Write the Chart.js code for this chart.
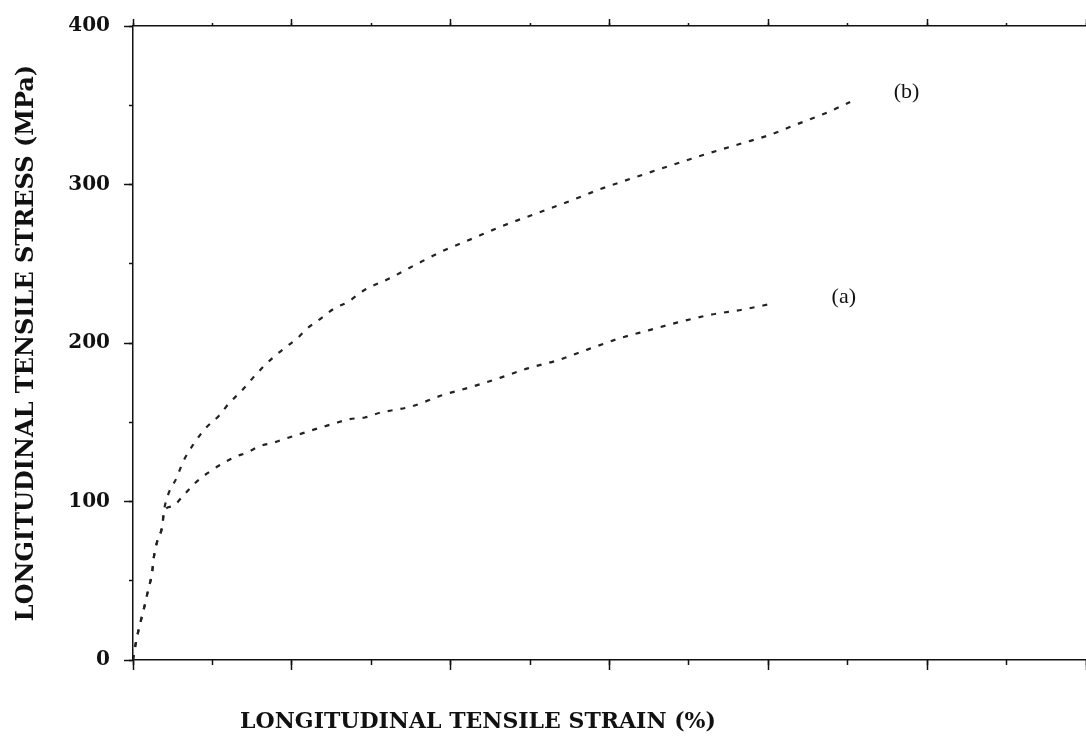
<!DOCTYPE html>
<html>
<head>
<meta charset="utf-8">
<script src="https://cdn.jsdelivr.net/npm/chart.js@4.4.1/dist/chart.umd.min.js"></script>
<style>
body { margin: 0; background: #fff; }
#wrap { width: 1086px; height: 740px; position: relative; }
</style>
</head>
<body>
<div id="wrap"><canvas id="mycanvas"></canvas></div>
<script>
// strain in minor-tick units (axis has no labels), stress in MPa
var strainA = [0, 0.04, 0.09, 0.14, 0.19, 0.24, 0.26, 0.30, 0.37, 0.39, 0.50, 0.62, 0.79, 0.97, 1.13, 1.28, 1.44, 1.60, 1.76, 1.94, 2.13, 2.32, 2.52, 2.73, 2.92, 3.11, 3.51, 3.89, 4.24, 4.62, 4.97, 5.34, 5.73, 6.13, 6.49, 6.86, 7.29, 7.67, 8.06];
var stressA = [0, 12, 23, 33, 44, 55, 64, 74, 85, 94, 97, 103, 112, 119, 124, 128, 131, 135, 137, 140, 143, 146, 149, 152, 153, 156, 160, 167, 172, 178, 184, 189, 196, 203, 208, 213, 218, 221, 225];

var strainB = [0, 0.04, 0.09, 0.14, 0.19, 0.24, 0.26, 0.30, 0.37, 0.39, 0.44, 0.55, 0.63, 0.76, 0.91, 1.08, 1.21, 1.37, 1.51, 1.66, 1.79, 1.94, 2.07, 2.19, 2.38, 2.54, 2.71, 2.90, 3.24, 3.58, 3.90, 4.28, 4.66, 5.04, 5.47, 5.88, 6.17, 7.27, 7.67, 8.00, 8.36, 8.72, 9.03];
var stressB = [0, 12, 23, 33, 44, 55, 64, 74, 85, 94, 104, 115, 125, 136, 146, 154, 162, 170, 178, 186, 192, 198, 203, 209, 216, 222, 226, 233, 241, 250, 258, 266, 274, 281, 289, 297, 302, 320, 326, 331, 338, 345, 352];

var curveNames = ['(a)', '(b)'];
var nameStrain = [8.95, 9.74];
var nameStress = [229, 358];

var yTicks = [0, 100, 200, 300, 400];
var xTitle = 'LONGITUDINAL TENSILE STRAIN (%)';
var yTitle = 'LONGITUDINAL TENSILE STRESS (MPa)';

function toPoints(xs, ys) {
	var pts = [];
	for (var i in xs) {
		pts.push({x: xs[i], y: ys[i]});
	}
	return pts;
}
function fixWidth(w) { return function(s) { s.width = w; }; }
function fixHeight(h) { return function(s) { s.height = h; }; }

var ink = '#111';

var textMarks = {
	id: 'textMarks',
	afterDraw: function(chart) {
		var ctx = chart.ctx;
		var xs = chart.scales.x, ys = chart.scales.y;
		ctx.save();
		ctx.fillStyle = ink;
		ctx.textAlign = 'center';
		ctx.textBaseline = 'middle';
		ctx.font = '22px "Liberation Serif"';
		for (var i = 0; i < curveNames.length; i++) {
			ctx.fillText(curveNames[i], xs.getPixelForValue(nameStrain[i]), ys.getPixelForValue(nameStress[i]));
		}
		ctx.font = 'bold 22px "DejaVu Serif"';
		ctx.fillText(xTitle, xs.left + 345, xs.top + 62);
		ctx.restore();
	}
};

var lineStyle = {
	borderColor: '#222',
	borderWidth: 2.2,
	borderDash: [5, 8],
	pointRadius: 0,
	fill: false,
	cubicInterpolationMode: 'monotone'
};

var chartdata = {
	datasets: [
		Object.assign({label: '(a)', data: toPoints(strainA, stressA)}, lineStyle),
		Object.assign({label: '(b)', data: toPoints(strainB, stressB)}, lineStyle)
	]
};

var ctx = document.getElementById('mycanvas');

var graph = new Chart(ctx, {
	type: 'line',
	data: chartdata,
	options: {
		responsive: true,
		maintainAspectRatio: false,
		animation: false,
		layout: { padding: 0 },
		plugins: {
			legend: { display: false },
			tooltip: { enabled: false }
		},
		scales: {
			x: {
				type: 'linear', position: 'bottom', weight: 1,
				min: 0, max: 12,
				ticks: { stepSize: 2, display: false },
				grid: { drawOnChartArea: false, tickLength: 10, tickWidth: 1.5, tickColor: ink },
				border: { color: ink, width: 1.5 },
				afterFit: fixHeight(80)
			},
			xMinor: {
				type: 'linear', position: 'bottom', weight: 0,
				min: 0, max: 12,
				ticks: { stepSize: 1, display: false },
				grid: { drawOnChartArea: false, tickLength: 5, tickWidth: 1.5, tickColor: ink },
				border: { display: false },
				afterFit: fixHeight(0)
			},
			xTop: {
				type: 'linear', position: 'top', weight: 1,
				min: 0, max: 12,
				ticks: { stepSize: 2, display: false },
				grid: { drawOnChartArea: false, tickLength: 7, tickWidth: 1.5, tickColor: ink },
				border: { color: ink, width: 1.5 },
				afterFit: fixHeight(24)
			},
			xTopMinor: {
				type: 'linear', position: 'top', weight: 0,
				min: 0, max: 12,
				ticks: { stepSize: 1, display: false },
				grid: { drawOnChartArea: false, tickLength: 3, tickWidth: 1.5, tickColor: ink },
				border: { display: false },
				afterFit: fixHeight(0)
			},
			y: {
				type: 'linear', position: 'left', weight: 1,
				min: 0, max: 400,
				afterBuildTicks: function(s) {
					s.ticks = yTicks.map(function(v) { return {value: v}; });
				},
				ticks: {
					color: ink, padding: 14,
					font: { family: 'DejaVu Serif', weight: 'bold', size: 20 }
				},
				grid: { drawOnChartArea: false, tickLength: 9, tickWidth: 1.5, tickColor: ink },
				border: { color: ink, width: 1.5 },
				title: {
					display: true, text: yTitle, color: ink,
					padding: { top: 12, bottom: 0 },
					font: { family: 'DejaVu Serif', weight: 'bold', size: 24 }
				},
				afterFit: fixWidth(133)
			},
			yMinor: {
				type: 'linear', position: 'left', weight: 0,
				min: 0, max: 400,
				ticks: { stepSize: 50, display: false },
				grid: { drawOnChartArea: false, tickLength: 4, tickWidth: 1.5, tickColor: ink },
				border: { display: false },
				afterFit: fixWidth(0)
			}
		}
	},
	plugins: [textMarks]
});
</script>
</body>
</html>
